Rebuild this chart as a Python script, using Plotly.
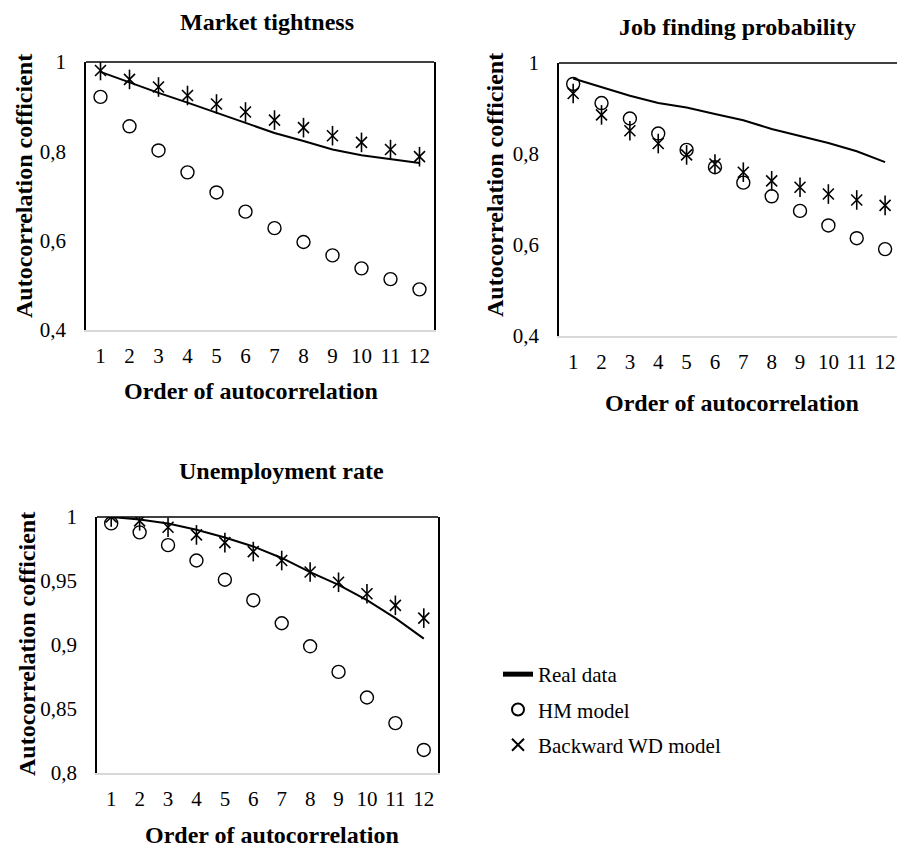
import plotly.graph_objects as go

lags = list(range(1, 13))
lag_labels = [str(v) for v in lags]

# Market tightness
mt_real = [0.978, 0.954, 0.931, 0.909, 0.886, 0.864, 0.841, 0.823, 0.804, 0.791, 0.782, 0.774]
mt_hm = [0.922, 0.856, 0.802, 0.753, 0.708, 0.665, 0.628, 0.597, 0.567, 0.538, 0.514, 0.491]
mt_wd = [0.981, 0.961, 0.944, 0.925, 0.906, 0.888, 0.870, 0.853, 0.835, 0.820, 0.804, 0.788]

# Job finding probability
jf_real = [0.966, 0.947, 0.928, 0.912, 0.902, 0.888, 0.874, 0.855, 0.840, 0.824, 0.806, 0.782]
jf_hm = [0.954, 0.912, 0.878, 0.845, 0.809, 0.771, 0.737, 0.707, 0.675, 0.643, 0.615, 0.591]
jf_wd = [0.933, 0.886, 0.851, 0.823, 0.798, 0.778, 0.760, 0.741, 0.727, 0.712, 0.699, 0.687]

# Unemployment rate
ur_real = [1.000, 0.998, 0.995, 0.990, 0.984, 0.977, 0.968, 0.957, 0.947, 0.935, 0.921, 0.905]
ur_hm = [0.995, 0.988, 0.978, 0.966, 0.951, 0.935, 0.917, 0.899, 0.879, 0.859, 0.839, 0.818]
ur_wd = [1.000, 0.997, 0.992, 0.986, 0.980, 0.973, 0.966, 0.957, 0.949, 0.940, 0.931, 0.921]

yt_top_vals = [0.4, 0.6, 0.8, 1.0]
yt_top_text = ["0,4", "0,6", "0,8", "1"]
yt_bot_vals = [0.8, 0.85, 0.9, 0.95, 1.0]
yt_bot_text = ["0,8", "0,85", "0,9", "0,95", "1"]

panel_titles = ["Market tightness", "Job finding probability", "Unemployment rate"]
x_title = "Order of autocorrelation"
y_title = "Autocorrelation cofficient"
series_names = ["Real data", "HM model", "Backward WD model"]

W, H = 897, 850
FONT = "Liberation Serif"

fig = go.Figure()

panels = [
    (mt_real, mt_hm, mt_wd, "x", "y"),
    (jf_real, jf_hm, jf_wd, "x2", "y2"),
    (ur_real, ur_hm, ur_wd, "x3", "y3"),
]

for i, (real, hm, wd, xa, ya) in enumerate(panels):
    show = (i == 2)
    fig.add_trace(go.Scatter(x=lags, y=real, mode="lines", name=series_names[0],
                             line=dict(color="black", width=2), xaxis=xa, yaxis=ya,
                             showlegend=show, legendgroup="g1"))
    fig.add_trace(go.Scatter(x=lags, y=hm, mode="markers", name=series_names[1],
                             marker=dict(symbol="circle-open", size=13, color="black",
                                         line=dict(width=1.4, color="black")),
                             xaxis=xa, yaxis=ya, showlegend=show, legendgroup="g2"))
    fig.add_trace(go.Scatter(x=lags, y=wd, mode="markers", name=series_names[2],
                             marker=dict(symbol="x-thin-open", size=11, color="black",
                                         line=dict(width=1.6, color="black")),
                             xaxis=xa, yaxis=ya, showlegend=show, legendgroup="g3"))
    fig.add_trace(go.Scatter(x=lags, y=wd, mode="markers", name=series_names[2],
                             marker=dict(symbol="line-ns-open", size=14, color="black",
                                         line=dict(width=1.6, color="black")),
                             xaxis=xa, yaxis=ya, showlegend=False, legendgroup="g3",
                             hoverinfo="skip"))


def px_x(p):
    return p / W


def px_y(p):
    return 1 - p / H


tickfont = dict(family=FONT, size=21, color="black")

xcommon = dict(tickmode="array", tickvals=lags, ticktext=lag_labels, tickfont=tickfont,
               showgrid=False, zeroline=False, showline=True, linecolor="#d9d9d9",
               linewidth=2, ticks="outside", ticklen=6, tickcolor="rgba(0,0,0,0)",
               fixedrange=True, automargin=False)
ycommon = dict(tickfont=tickfont, showgrid=False, zeroline=False, showline=True,
               linecolor="black", linewidth=1.5, ticks="outside", ticklen=14,
               tickcolor="rgba(0,0,0,0)", fixedrange=True, tickmode="array", automargin=False)

fig.update_layout(
    xaxis=dict(domain=[px_x(86), px_x(434)], range=[0.5, 12.5], anchor="y", **xcommon),
    yaxis=dict(domain=[px_y(330), px_y(62)], range=[0.4, 1.0], anchor="x",
               tickvals=yt_top_vals, ticktext=yt_top_text, mirror=True, **ycommon),
    xaxis2=dict(domain=[px_x(559), 1.0], range=[0.5, 12.42], anchor="y2", **xcommon),
    yaxis2=dict(domain=[px_y(336), px_y(63)], range=[0.4, 1.0], anchor="x2",
                tickvals=yt_top_vals, ticktext=yt_top_text, mirror=False, **ycommon),
    xaxis3=dict(domain=[px_x(97), px_x(438)], range=[0.5, 12.5], anchor="y3", **xcommon),
    yaxis3=dict(domain=[px_y(773), px_y(517)], range=[0.8, 1.0], anchor="x3",
                tickvals=yt_bot_vals, ticktext=yt_bot_text, mirror=True, **ycommon),
)

# top borders of the plot areas
for xr, yr in [("x domain", "y domain"), ("x2 domain", "y2 domain"), ("x3 domain", "y3 domain")]:
    fig.add_shape(type="line", xref=xr, yref=yr, x0=0, x1=1, y0=1, y1=1,
                  line=dict(color="black", width=1.5), layer="above")

bold = dict(family=FONT, size=24, color="black")
ann = []
for txt, cx, cy in [(panel_titles[0], 267, 22), (panel_titles[1], 737, 27), (panel_titles[2], 281, 471)]:
    ann.append(dict(text="<b>%s</b>" % txt, x=px_x(cx), y=px_y(cy), xref="paper", yref="paper",
                    showarrow=False, xanchor="center", yanchor="middle", font=bold))
for cx, cy in [(251, 391), (732, 403), (272, 835)]:
    ann.append(dict(text="<b>%s</b>" % x_title, x=px_x(cx), y=px_y(cy), xref="paper", yref="paper",
                    showarrow=False, xanchor="center", yanchor="middle", font=bold))
for cx, cy in [(24, 186), (495, 185), (27, 644)]:
    ann.append(dict(text="<b>%s</b>" % y_title, x=px_x(cx), y=px_y(cy), xref="paper", yref="paper",
                    showarrow=False, xanchor="center", yanchor="middle", textangle=-90, font=bold))

fig.update_layout(
    width=W, height=H, margin=dict(l=0, r=0, t=0, b=0, autoexpand=False),
    paper_bgcolor="white", plot_bgcolor="white",
    font=dict(family=FONT, color="black"),
    annotations=ann,
    legend=dict(x=px_x(498), y=px_y(654), xanchor="left", yanchor="top",
                font=dict(family=FONT, size=21, color="black"),
                traceorder="grouped", tracegroupgap=5, bgcolor="rgba(0,0,0,0)",
                itemsizing="constant"),
    showlegend=True,
)

fig.write_html(
    "out.html",
    config={"displayModeBar": False},
    post_script="document.body.style.margin='0';document.body.style.overflow='hidden';"
                "document.documentElement.style.overflow='hidden';",
)
